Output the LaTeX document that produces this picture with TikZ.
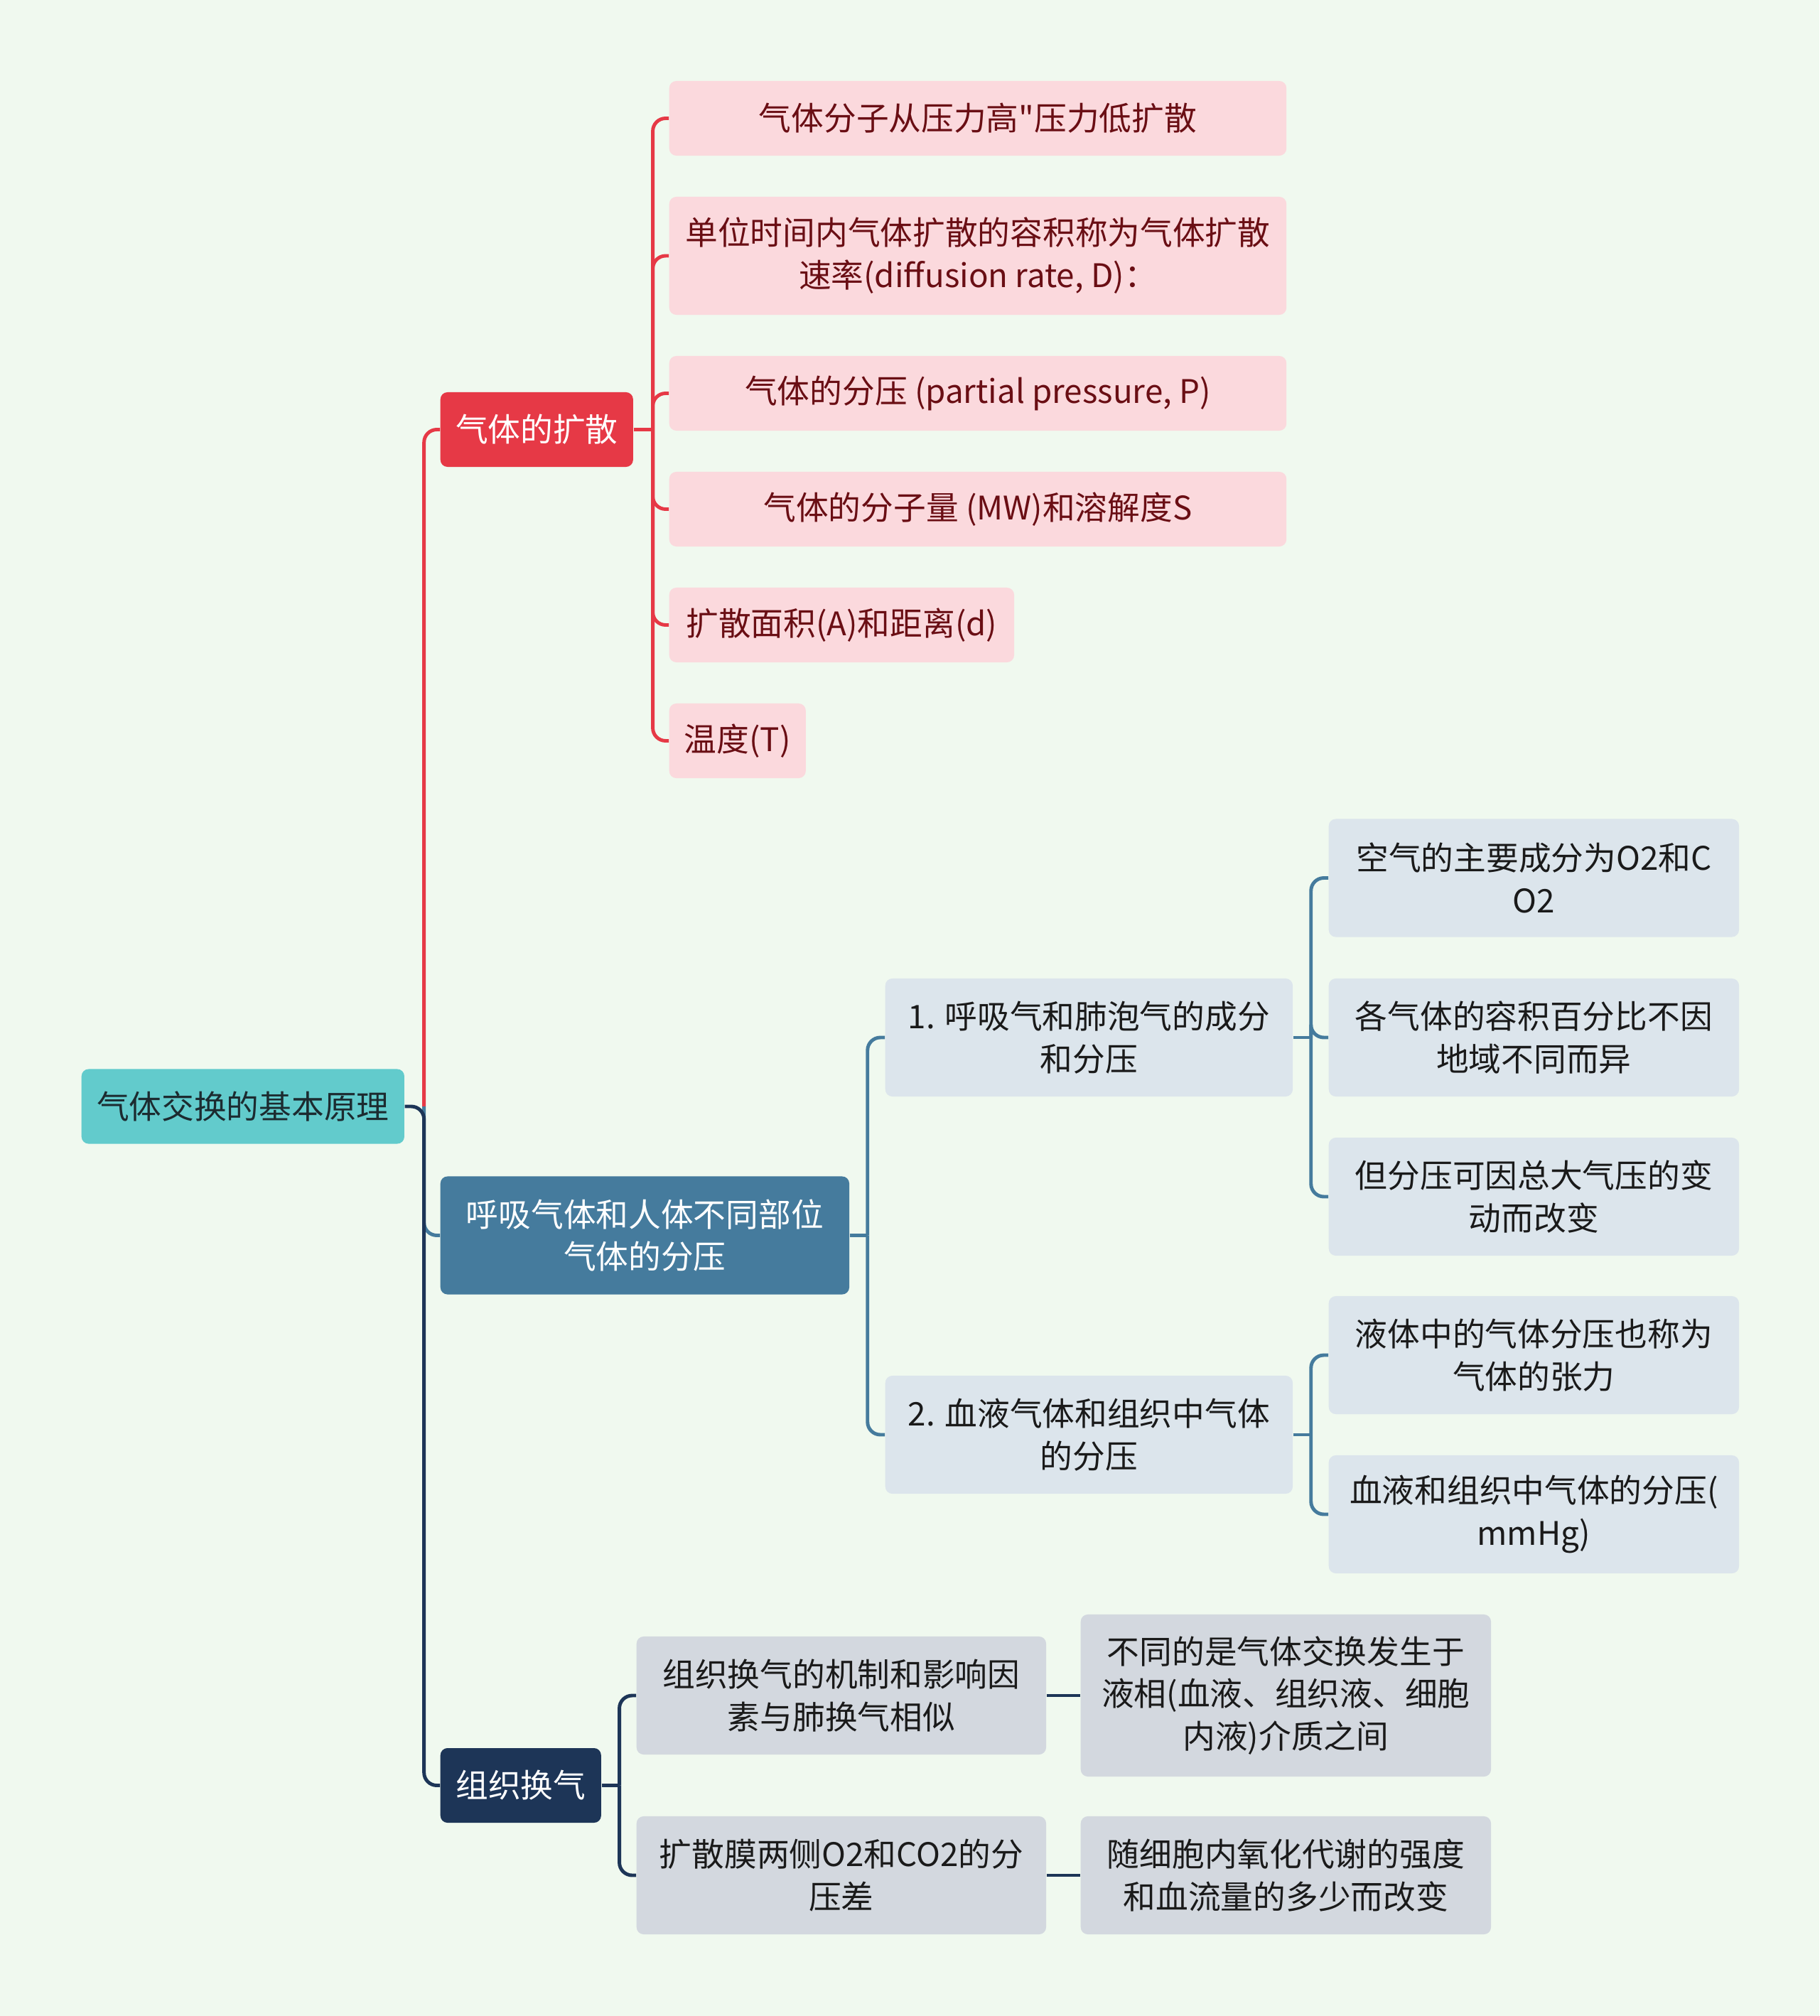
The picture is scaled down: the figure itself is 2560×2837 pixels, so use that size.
\documentclass[tikz,border=0pt]{standalone}
\usepackage{fontspec}
\setmainfont{Noto Sans CJK SC}[Ligatures=TeXOff]
\definecolor{bgmint}{HTML}{F0F9EF}
\definecolor{rootteal}{HTML}{62CBCC}
\definecolor{rootink}{HTML}{1C2B30}
\definecolor{diffred}{HTML}{E63946}
\definecolor{diffpink}{HTML}{FBD9DD}
\definecolor{diffink}{HTML}{6A0E14}
\definecolor{respblue}{HTML}{457B9D}
\definecolor{respleaf}{HTML}{DCE5EC}
\definecolor{tisnavy}{HTML}{1D3557}
\definecolor{tisleaf}{HTML}{D3D8DF}
\definecolor{leafink}{HTML}{1A1A1A}
\tikzset{
  box/.style={rectangle,rounded corners=0.1cm,inner xsep=0.15cm,inner ysep=0.05cm,
    align=center,anchor=west,font=\fontsize{13}{17}\selectfont},
  one/.style={minimum height=1.05cm},
  two/.style={minimum height=1.66cm},
  three/.style={minimum height=2.28cm},
  rootbox/.style={box,one,fill=rootteal,text=rootink,minimum width=4.54cm},
  topic/.style={box,fill=#1,text=white},
  leaf/.style={box,fill=#1,text=leafink},
  link/.style={draw=#1,line width=1.4pt,rounded corners=0.18cm},
}

\begin{document}
\begin{tikzpicture}[x=0.01cm,y=-0.01cm]
  \fill[bgmint] (0,0) rectangle (2560,2837);
  \useasboundingbox (0,0) rectangle (2560,2837);

  % root and main topics
  \node[rootbox] (root) at (114,1557) {气体交换的基本原理};
  \node[topic=diffred,one,minimum width=2.71cm] (diff) at (619,604.5) {气体的扩散};
  \node[topic=respblue,two,minimum width=5.75cm] (resp) at (619,1738.5) {呼吸气体和人体不同部位\\气体的分压};
  \node[topic=tisnavy,one,minimum width=2.26cm] (tis) at (619,2512.5) {组织换气};

  % diffusion leaves
  \node[leaf=diffpink,text=diffink,one,minimum width=8.68cm] (dfa) at (941,166.5) {气体分子从压力高"压力低扩散};
  \node[leaf=diffpink,text=diffink,two,minimum width=8.68cm] (dfb) at (941,360) {单位时间内气体扩散的容积称为气体扩散\\速率(diffusion rate, D)：};
  \node[leaf=diffpink,text=diffink,one,minimum width=8.68cm] (dfc) at (941,553.5) {气体的分压 (partial pressure, P)};
  \node[leaf=diffpink,text=diffink,one,minimum width=8.68cm] (dfd) at (941,716.5) {气体的分子量 (MW)和溶解度S};
  \node[leaf=diffpink,text=diffink,one,minimum width=4.85cm] (dfe) at (941,879.5) {扩散面积(A)和距离(d)};
  \node[leaf=diffpink,text=diffink,one,minimum width=1.92cm] (dff) at (941,1042.5) {温度(T)};

  % partial pressure branch
  \node[leaf=respleaf,two,minimum width=5.73cm] (rsa) at (1245,1460) {1. 呼吸气和肺泡气的成分\\和分压};
  \node[leaf=respleaf,two,minimum width=5.73cm] (rsb) at (1245,2019) {2. 血液气体和组织中气体\\的分压};
  \node[leaf=respleaf,two,minimum width=5.77cm] (rsa1) at (1869,1235.5) {空气的主要成分为O2和C\\O2};
  \node[leaf=respleaf,two,minimum width=5.77cm] (rsa2) at (1869,1460) {各气体的容积百分比不因\\地域不同而异};
  \node[leaf=respleaf,two,minimum width=5.77cm] (rsa3) at (1869,1684) {但分压可因总大气压的变\\动而改变};
  \node[leaf=respleaf,two,minimum width=5.77cm] (rsb1) at (1869,1907) {液体中的气体分压也称为\\气体的张力};
  \node[leaf=respleaf,two,minimum width=5.77cm] (rsb2) at (1869,2131) {血液和组织中气体的分压(\\mmHg)};

  % tissue exchange branch
  \node[leaf=tisleaf,two,minimum width=5.76cm] (tsa) at (895,2386) {组织换气的机制和影响因\\素与肺换气相似};
  \node[leaf=tisleaf,two,minimum width=5.76cm] (tsb) at (895,2639) {扩散膜两侧O2和CO2的分\\压差};
  \node[leaf=tisleaf,three,minimum width=5.77cm] (tsa1) at (1520,2386) {不同的是气体交换发生于\\液相(血液、组织液、细胞\\内液)介质之间};
  \node[leaf=tisleaf,two,minimum width=5.77cm] (tsb1) at (1520,2639) {随细胞内氧化代谢的强度\\和血流量的多少而改变};

  % connectors
  \draw[link=diffred] (root.east) ++(27,0) coordinate (rj) |- (diff.west);
  \draw[link=respblue] (rj) |- (resp.west);
  \draw[link=tisnavy] (root.east) -- (rj) |- (tis.west);

  \draw[link=diffred] (diff.east) -- ++(27,0) coordinate (dj);
  \foreach \c in {dfa,dfb,dfc,dfd,dfe,dff}
    \draw[link=diffred] (dj) |- (\c.west);

  \draw[link=respblue] (resp.east) -- ++(25,0) coordinate (sj);
  \foreach \c in {rsa,rsb}
    \draw[link=respblue] (sj) |- (\c.west);
  \draw[link=respblue] (rsa.east) -- ++(25,0) coordinate (aj);
  \foreach \c in {rsa1,rsa2,rsa3}
    \draw[link=respblue] (aj) |- (\c.west);
  \draw[link=respblue] (rsb.east) -- ++(25,0) coordinate (bj);
  \foreach \c in {rsb1,rsb2}
    \draw[link=respblue] (bj) |- (\c.west);

  \draw[link=tisnavy] (tis.east) -- ++(25,0) coordinate (tj);
  \foreach \c in {tsa,tsb}
    \draw[link=tisnavy] (tj) |- (\c.west);
  \draw[link=tisnavy] (tsa.east) -- (tsa1.west);
  \draw[link=tisnavy] (tsb.east) -- (tsb1.west);
\end{tikzpicture}
\end{document}
